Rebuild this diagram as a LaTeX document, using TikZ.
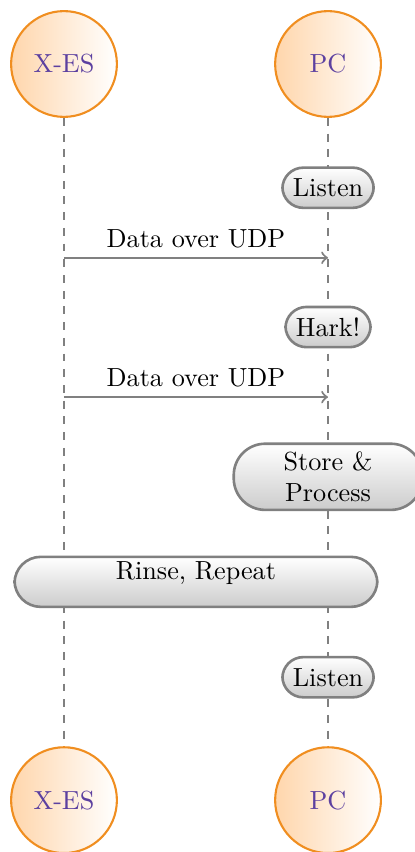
\documentclass[tikz,border=0pt]{standalone}
\usepackage{tikz}
\definecolor{actorrim}{RGB}{240,142,32}
\definecolor{actorfill}{RGB}{255,214,172}
\definecolor{actortext}{RGB}{92,64,160}
\definecolor{stepgray}{RGB}{128,128,128}

\begin{document}
\begin{tikzpicture}[
  actor/.style={circle,draw=actorrim,line width=0.8pt,left color=actorfill,right color=white,
    text=actortext,minimum size=1.42cm,inner sep=0pt},
  lifeline/.style={stepgray,thick,dashed},
  stepbox/.style={rectangle,rounded corners=8pt,draw=stepgray,line width=1pt,
    top color=white,bottom color=stepgray!40,minimum height=0.54cm,inner xsep=4pt,inner ysep=2pt},
  msg/.style={stepgray,thick,->}]
\useasboundingbox (0,0) rectangle (5.557,-11.436);
\node[actor] (xes) at (0.859,-0.859) {X-ES};
\node[actor] (pc) at (4.403,-0.859) {PC};
\node[actor] (xesb) at (0.859,-10.74) {X-ES};
\node[actor] (pcb) at (4.403,-10.74) {PC};
\draw[lifeline] (xes) -- (xesb);
\draw[lifeline] (pc) -- (pcb);
\node[stepbox] (listen) at (4.403,-2.52) {Listen};
\coordinate (udpa) at (0.859,-3.46);
\coordinate (udpb) at (4.403,-3.46);
\draw[msg] (udpa) -- node[above,text=black] {Data over UDP} (udpb);
\node[stepbox] (hark) at (4.403,-4.39) {Hark!};
\coordinate (udpc) at (0.859,-5.33);
\coordinate (udpd) at (4.403,-5.33);
\draw[msg] (udpc) -- node[above,text=black] {Data over UDP} (udpd);
\node[stepbox,rounded corners=12pt,text width=2.25cm,align=center,inner ysep=3pt] (store) at (4.403,-6.40) {Store \&\\Process};
\node[stepbox,rounded corners=10pt,minimum width=4.87cm,text height=6.3pt,text depth=7.8pt,inner ysep=2.5pt] (rinse) at (2.63,-7.81) {Rinse, Repeat};
\node[stepbox] (listenb) at (4.403,-9.09) {Listen};
\end{tikzpicture}
\end{document}
